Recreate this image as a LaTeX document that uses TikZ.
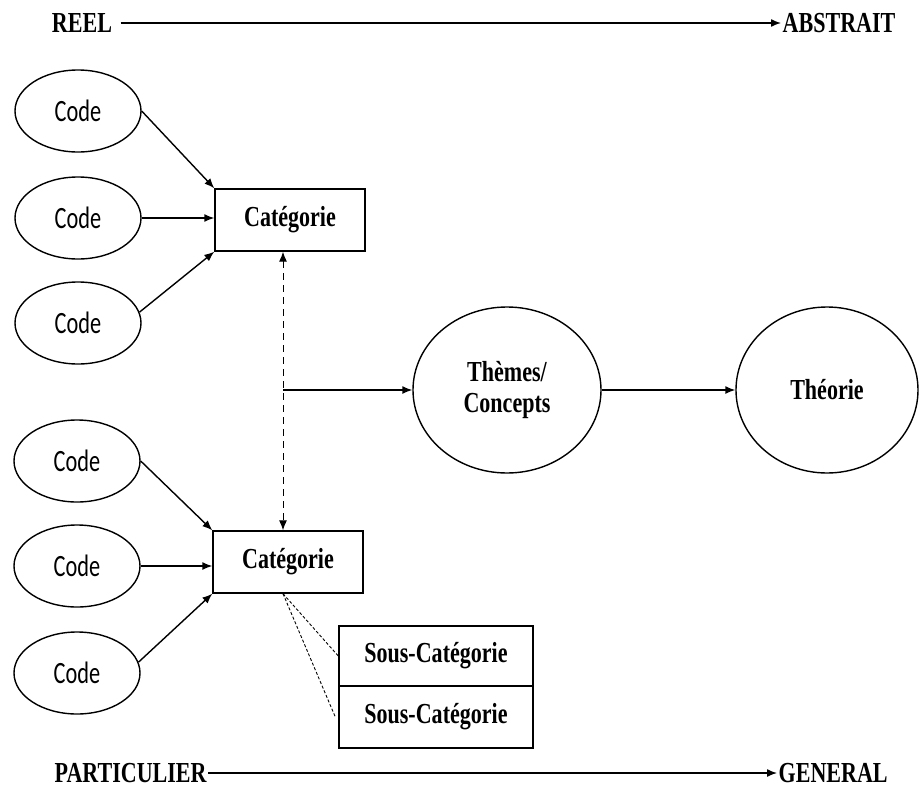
\documentclass[tikz,border=0pt]{standalone}
\usepackage{fontspec}
\newfontfamily\lblfont{Liberation Serif}[FakeStretch=0.76]
\newfontfamily\codefont{Carlito}[FakeStretch=0.72]
\usetikzlibrary{shapes.geometric,arrows.meta}

\begin{document}
\begin{tikzpicture}[x=1pt,y=-1pt,>={Latex[length=10pt,width=8pt]},line width=1.4pt,
    lbl/.style={font=\lblfont\bfseries\fontsize{29}{31}\selectfont,inner sep=3pt},
    axe/.style={lbl,inner sep=1pt},
    code/.style={ellipse,draw,minimum width=126pt,minimum height=82pt,inner sep=0pt,
        font=\codefont\fontsize{31}{32}\selectfont},
    cat/.style={rectangle,draw,minimum width=150pt,minimum height=62pt,lbl},
    souscat/.style={rectangle,draw,minimum width=194pt,lbl},
    big/.style={ellipse,draw,minimum height=166pt,inner sep=0pt,lbl,align=center},
    pointille/.style={dashed,dash pattern=on 7pt off 5pt,line width=1pt},
    fin/.style={dash pattern=on 3pt off 2pt,line width=0.9pt}]
    \useasboundingbox (0,0) rectangle (919,790);
    \fill[white] (0,0) rectangle (919,790);

    % axe du haut
    \node[axe] (reel) at (82,23) {REEL};
    \node[axe,anchor=west] (abstrait) at (781,23) {ABSTRAIT};
    \draw[->,shorten <=7pt] (reel) -- (abstrait);

    % axe du bas
    \node[axe,anchor=west] (partic) at (53,773) {PARTICULIER};
    \node[axe,anchor=west] (general) at (777,773) {GENERAL};
    \draw[->] (partic) -- (general);

    % codes et categories
    \node[code] (c1) at (78,111) {Code};
    \node[code] (c2) at (78,218) {Code};
    \node[code] (c3) at (78,323) {Code};
    \node[code] (c4) at (77,461) {Code};
    \node[code] (c5) at (77,566) {Code};
    \node[code] (c6) at (77,673) {Code};
    \node[cat] (cat1) at (290,220) {Catégorie};
    \node[cat] (cat2) at (288,562) {Catégorie};

    \draw[->] (c1.east) -- (cat1.north west);
    \draw[->] (c2.east) -- (c2.east -| cat1.west);
    \draw[->] (c3.10) -- (cat1.south west);
    \draw[->] (c4.east) -- (cat2.north west);
    \draw[->] (c5.east) -- (c5.east -| cat2.west);
    \draw[->] (c6.10) -- (cat2.south west);

    % themes et theorie
    \node[big,minimum width=188pt] (themes) at (507,390) {Thèmes/\\Concepts};
    \node[big,minimum width=182pt] (theorie) at (827,390) {Théorie};

    \coordinate (dtop) at ([xshift=-7pt]cat1.south);
    \coordinate (dbot) at (dtop |- cat2.north);
    \coordinate (jn) at (dtop |- themes.west);
    \draw[<->,pointille] (dtop) -- (dbot);
    \draw[->] (jn) -- (themes.west);
    \draw[->] (themes) -- (theorie);

    % sous-categories
    \node[souscat,minimum height=60pt] (sub1) at (436,656) {Sous-Catégorie};
    \node[souscat,minimum height=62pt] (sub2) at (436,717) {Sous-Catégorie};
    \draw[fin] ([xshift=-5pt]cat2.south) -- (sub1.west);
    \draw[fin] ([xshift=-5pt]cat2.south) -- ([xshift=-3pt]sub2.west);
\end{tikzpicture}
\end{document}
